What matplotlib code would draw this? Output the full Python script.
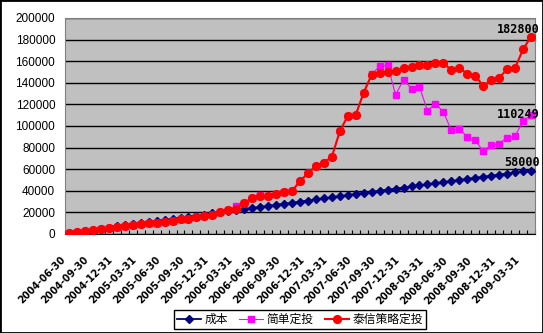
import matplotlib
matplotlib.use("Agg")
import matplotlib.pyplot as plt
import numpy as np

plt.rcParams['font.family'] = ['Noto Sans CJK SC', 'DejaVu Sans']

# monthly values, 2004-06 .. 2009-04
cost = [1000, 2000, 3000, 4000, 5000, 6000, 7000, 8000, 9000, 10000,
        11000, 12000, 13000, 14000, 15000, 16000, 17000, 18000, 19000, 20000,
        21000, 22000, 23000, 24000, 25000, 26000, 27000, 28000, 29000, 30000,
        31000, 32000, 33000, 34000, 35000, 36000, 37000, 38000, 39000, 40000,
        41000, 42000, 43000, 44000, 45000, 46000, 47000, 48000, 49000, 50000,
        51000, 52000, 53000, 54000, 55000, 56000, 57000, 58000, 58000]

strategy = [1000, 1600, 2600, 3500, 4700, 5600, 6500, 7200, 8200, 8900,
            10600, 10000, 11500, 12500, 13700, 14300, 15600, 16800, 18000, 20400,
            22000, 23600, 28900, 33300, 34800, 34800, 36700, 38600, 39800, 49000,
            56200, 63000, 66000, 71700, 95100, 109400, 110500, 131000, 147500, 149100,
            150100, 151300, 153500, 154400, 156300, 156600, 158100, 158000, 152000, 153500,
            148500, 146600, 137200, 142200, 144700, 152500, 153800, 171000, 182800]

simple = [1000, 1600, 2600, 3500, 4700, 5600, 6500, 7200, 8200, 8900,
          10600, 10000, 11500, 12500, 13700, 14300, 15600, 16800, 18000, 20400,
          22000, 25500, 28900, 33300, 36500, 34800, 36700, 38600, 39800, 49000,
          56200, 63000, 66000, 71700, 95100, 109400, 110500, 131000, 148000, 155300,
          156300, 128800, 142900, 134700, 136300, 114100, 120700, 113000, 96000, 97600,
          89700, 86700, 76700, 82000, 83600, 89200, 90700, 104500, 110249]

date_labels = ['2004-06-30', '2004-09-30', '2004-12-31', '2005-03-31', '2005-06-30',
               '2005-09-30', '2005-12-31', '2006-03-31', '2006-06-30', '2006-09-30',
               '2006-12-31', '2007-03-31', '2007-06-30', '2007-09-30', '2007-12-31',
               '2008-03-31', '2008-06-30', '2008-09-30', '2008-12-31', '2009-03-31']

fig = plt.figure(figsize=(5.43, 3.33), dpi=100)
ax = fig.add_axes([65/543, 1-234/333, 470/543, 216/333])

x = np.arange(len(cost))
ax.plot(x, cost, color='#000080', marker='D', ms=3.8, lw=1.3, label='成本', zorder=3)
ax.plot(x, simple, color='#FF00FF', marker='s', ms=5, lw=0.8, label='简单定投', zorder=4)
ax.plot(x, strategy, color='#FF0000', marker='o', ms=5.6, lw=1.5, label='泰信策略定投', zorder=5)

ax.set_facecolor('#C0C0C0')
ax.set_xlim(-0.5, len(cost) - 0.5)
ax.set_ylim(0, 200000)
ax.set_yticks(range(0, 200001, 20000))
ax.yaxis.grid(True, color='black', lw=1)
ax.set_axisbelow(True)
ax.tick_params(axis='y', length=0, pad=7, labelsize=8.5)
for lab in ax.get_yticklabels():
    lab.set_family('Liberation Sans')

ax.set_xticks(np.arange(-0.5, len(cost), 1))
ax.set_xticklabels([])
ax.tick_params(axis='x', direction='in', length=3, color='black')

for spine in ['top', 'right', 'left']:
    ax.spines[spine].set_color('#808080')
ax.spines['bottom'].set_color('black')

for i, lab in enumerate(date_labels):
    ax.annotate(lab, xy=(i * 3, 0), xycoords=('data', 'axes fraction'),
                xytext=(-9, -21), textcoords='offset pixels',
                rotation=45, rotation_mode='anchor', ha='right', va='top',
                fontsize=7, fontweight='bold', family='DejaVu Sans')

last = len(cost) - 1
for series, dy in [(strategy, 7), (simple, 0), (cost, 9)]:
    ax.annotate(str(series[-1]), xy=(last, series[-1]), xytext=(9, dy),
                textcoords='offset pixels', ha='right', va='center',
                fontsize=8.5, fontweight='bold', family='DejaVu Sans Mono',
                annotation_clip=False, zorder=6)

leg = fig.legend(loc='center', bbox_to_anchor=(300/543, 1-319.5/333), ncol=3,
                 frameon=True, fancybox=False, edgecolor='black', framealpha=1,
                 fontsize=8.5, handlelength=2, handletextpad=0.3, columnspacing=1.0,
                 borderpad=0.25, numpoints=1)
leg.get_frame().set_linewidth(1)

fig.patches.append(plt.Rectangle((0, 0), 1, 1, transform=fig.transFigure,
                                 fill=False, edgecolor='black', lw=2))

fig.savefig('out.png', dpi=100)
